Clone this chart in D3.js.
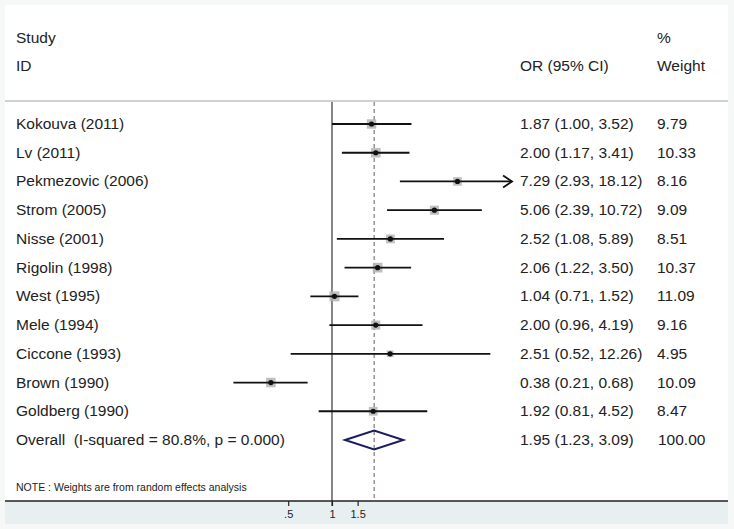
<!DOCTYPE html>
<html>
<head>
<meta charset="utf-8">
<script src="https://cdn.jsdelivr.net/npm/d3@7"></script>
<style>
  html, body { margin: 0; padding: 0; background: #ffffff; }
  svg text { font-family: "Liberation Sans", Arial, sans-serif; fill: #222; }
</style>
</head>
<body>
<div id="chart"></div>
<script>
// Datos del forest plot (OR, IC 95 %, peso)
const studies = ["Kokouva (2011)", "Lv (2011)", "Pekmezovic (2006)", "Strom (2005)",
  "Nisse (2001)", "Rigolin (1998)", "West (1995)", "Mele (1994)", "Ciccone (1993)",
  "Brown (1990)", "Goldberg (1990)"];
const or    = [1.87, 2.00, 7.29, 5.06, 2.52, 2.06, 1.04, 2.00, 2.51, 0.38, 1.92];
const lower = [1.00, 1.17, 2.93, 2.39, 1.08, 1.22, 0.71, 0.96, 0.52, 0.21, 0.81];
const upper = [3.52, 3.41, 18.12, 10.72, 5.89, 3.50, 1.52, 4.19, 12.26, 0.68, 4.52];
const weight = [9.79, 10.33, 8.16, 9.09, 8.51, 10.37, 11.09, 9.16, 4.95, 10.09, 8.47];

const overallLabel = "Overall  (I-squared = 80.8%, p = 0.000)";
const overall = { or: 1.95, lower: 1.23, upper: 3.09, weight: 100.00 };

const tickValues = [0.5, 1, 1.5];
const tickLabels = [".5", "1", "1.5"];
const noteText = "NOTE : Weights are from random effects analysis";

const W = 734, H = 529;
const FS = "15.5px";
const f2 = d3.format(".2f");

const svg = d3.select("#chart").append("svg")
  .attr("width", W).attr("height", H);

// --- Fondo estilo Stata ---
svg.append("rect").attr("width", W).attr("height", H).attr("fill", "#f6f8f8");
svg.append("rect").attr("x", 5).attr("y", 5).attr("width", 723).attr("height", 496)
  .attr("fill", "#ffffff");
svg.append("rect").attr("x", 5).attr("y", 501).attr("width", 723).attr("height", 23)
  .attr("fill", "#e8eff1");

// Escalas
const x = d3.scaleLog().domain([0.5, 1.5]).range([288.2, 357.6]);
const xClip = 17.3; // limite visible derecho (flecha)
const rows = studies.concat([overallLabel]);
const y = d3.scalePoint().domain(rows).range([124, 440]);
const boxSide = d3.scaleSqrt().domain([0, 11.09]).range([0, 10]);

// Separador de cabecera
svg.append("line").attr("x1", 5).attr("x2", 728).attr("y1", 101).attr("y2", 101)
  .attr("stroke", "#cfd2d2").attr("stroke-width", 2);

// Cabeceras
const head = svg.append("g").style("font-size", FS);
head.append("text").attr("x", 16).attr("y", 43).text("Study");
head.append("text").attr("x", 16).attr("y", 71).text("ID");
head.append("text").attr("x", 520).attr("y", 71).text("OR (95% CI)");
head.append("text").attr("x", 657).attr("y", 43).text("%");
head.append("text").attr("x", 657).attr("y", 71).text("Weight");

// Linea de no efecto y linea del efecto global
svg.append("line").attr("x1", x(1)).attr("x2", x(1)).attr("y1", 102).attr("y2", 506)
  .attr("stroke", "#444").attr("stroke-width", 1.3);
svg.append("line").attr("x1", x(overall.or)).attr("x2", x(overall.or))
  .attr("y1", 102).attr("y2", 501)
  .attr("stroke", "#847676").attr("stroke-width", 1.2).attr("stroke-dasharray", "4,3");

// --- Estudios ---
const g = svg.append("g");
studies.forEach((s, i) => {
  const cy = y(s);
  const hi = Math.min(upper[i], xClip);
  const side = boxSide(weight[i]);
  g.append("rect")
    .attr("x", x(or[i]) - side / 2).attr("y", cy - side / 2)
    .attr("width", side).attr("height", side)
    .attr("fill", "#b4b4b4").attr("opacity", 0.85);
  g.append("line")
    .attr("x1", x(lower[i])).attr("x2", x(hi)).attr("y1", cy).attr("y2", cy)
    .attr("stroke", "#111").attr("stroke-width", 1.8);
  if (upper[i] > xClip) {
    const ax = x(xClip);
    g.append("path")
      .attr("d", `M${ax - 9},${cy - 6} L${ax},${cy} L${ax - 9},${cy + 6}`)
      .attr("fill", "none").attr("stroke", "#111").attr("stroke-width", 1.8);
  }
  g.append("circle").attr("cx", x(or[i])).attr("cy", cy).attr("r", 2.6).attr("fill", "#111");

  const t = g.append("g").style("font-size", FS);
  t.append("text").attr("x", 16).attr("y", cy + 5).text(s);
  t.append("text").attr("x", 520).attr("y", cy + 5)
    .text(`${f2(or[i])} (${f2(lower[i])}, ${f2(upper[i])})`);
  t.append("text").attr("x", 657).attr("y", cy + 5).text(f2(weight[i]));
});

// --- Global ---
const oy = y(overallLabel);
svg.append("path")
  .attr("d", `M${x(overall.lower)},${oy} L${x(overall.or)},${oy - 9.5} L${x(overall.upper)},${oy} L${x(overall.or)},${oy + 9.5} Z`)
  .attr("fill", "none").attr("stroke", "#1c1c5e").attr("stroke-width", 2);
const ot = svg.append("g").style("font-size", FS);
ot.append("text").attr("x", 16).attr("y", oy + 5).style("white-space", "pre").text(overallLabel);
ot.append("text").attr("x", 520).attr("y", oy + 5)
  .text(`${f2(overall.or)} (${f2(overall.lower)}, ${f2(overall.upper)})`);
ot.append("text").attr("x", 658).attr("y", oy + 5).text(f2(overall.weight));

// Nota
svg.append("text").attr("x", 16).attr("y", 491).style("font-size", "10.5px")
  .text(noteText);

// --- Eje X ---
svg.append("line").attr("x1", 5).attr("x2", 728).attr("y1", 501).attr("y2", 501)
  .attr("stroke", "#222").attr("stroke-width", 1.3);
const axis = d3.axisBottom(x).tickValues(tickValues).tickSize(5)
  .tickFormat((d, i) => tickLabels[i]);
const ag = svg.append("g").attr("transform", "translate(0,501)").call(axis);
ag.select(".domain").remove();
ag.selectAll(".tick line").attr("stroke", "#222").attr("stroke-width", 1.2);
ag.selectAll(".tick text").attr("dy", "0.85em").style("font-size", "11px")
  .style("font-family", "Liberation Sans, Arial, sans-serif").attr("fill", "#222");
</script>
</body>
</html>
